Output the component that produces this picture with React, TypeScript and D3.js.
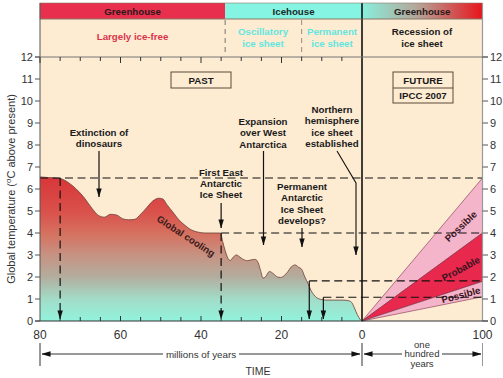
import React from "react";
import * as d3 from "d3";

// ---------- data ----------
const pastAges = [80, 78, 76, 74.5, 73, 71, 69, 67, 65.5, 64, 62.5, 61, 59.5, 58, 56.5, 55, 53.5, 52, 50.5, 49.5, 48.5, 47, 45.5, 44, 42.5, 41, 39, 37, 35.2, 34.6, 34, 33.3, 32.7, 32, 31.2, 30.3, 29.5, 28.5, 27.5, 26.5, 25.8, 25.2, 24.6, 24, 23, 22, 21, 20.2, 19.4, 18.6, 17.6, 16.6, 15.8, 15, 14.2, 13.4, 12.7, 12, 11.2, 10.2, 9, 7, 5, 3.5, 2.6, 1.9, 1.2, 0.5, 0];
const pastTemps = [6.55, 6.52, 6.5, 6.45, 6.3, 6.0, 5.6, 5.1, 4.8, 4.72, 4.85, 4.82, 4.65, 4.6, 4.62, 4.85, 5.15, 5.45, 5.58, 5.55, 5.3, 4.95, 4.6, 4.35, 4.15, 4.05, 4.0, 4.0, 4.0, 3.6, 3.2, 2.85, 2.75, 2.9, 3.0, 2.9, 2.8, 2.74, 2.78, 2.8, 2.65, 2.3, 1.95, 2.0, 2.25, 2.15, 2.0, 1.98, 2.05, 2.2, 2.45, 2.55, 2.45, 2.35, 2.0, 1.7, 1.4, 1.2, 1.05, 0.98, 0.95, 0.95, 0.95, 0.93, 0.85, 0.6, 0.3, 0.08, 0];

const futureLabels = ["Possible", "Probable", "Possible"];
const futureHigh = [6.5, 4.0, 1.8];
const futureLow = [4.0, 1.8, 1.1];

const pastTickLabels = [80, 60, 40, 20, 0];
const futureTickLabels = [0, 100];
const tempTicks = d3.range(0, 13);

const eraNames = ["Greenhouse", "Icehouse", "Greenhouse"];
const eraAges = [80, 34, 0];

// reference levels (temp) with the age at which they start
const levelTemps = [6.5, 4.0, 1.82, 1.08];
const levelAges = [80, 35, 13.1, 9.6];

// ---------- layout ----------
const W = 503, H = 378;
const x = d3.scaleLinear().domain([80, 0]).range([40, 362]);
const xf = d3.scaleLinear().domain([0, 100]).range([362, 482.5]);
const y = d3.scaleLinear().domain([0, 12]).range([321, 57]);

const FONT = "'Liberation Sans', Arial, sans-serif";
const BEIGE = "#fdebd2";
const BF = 9.7; // bold annotation font size

export default function App() {
  const pts = pastAges.map((a, i) => ({ a, t: pastTemps[i] }));
  const area = d3.area<{ a: number; t: number }>()
    .x(d => x(d.a)).y0(y(0)).y1(d => y(d.t)).curve(d3.curveMonotoneX);
  const line = d3.line<{ a: number; t: number }>()
    .x(d => x(d.a)).y(d => y(d.t)).curve(d3.curveMonotoneX);

  const bandColors = ["#f4b5cb", "#e8284c", "#f4b5cb"];

  const ann = (lines: string[], cx: number, y0: number, lh = 11.4) =>
    lines.map((s, i) => (
      <text key={s + i} x={cx} y={y0 + i * lh} textAnchor="middle" fontWeight="bold" fontSize={BF} fill="#1a1a1a">{s}</text>
    ));

  const topTicks = d3.range(80, 0, -5);

  return (
    <svg width={W} height={H} style={{ position: "absolute", left: 0, top: 0, fontFamily: FONT }}>
      <defs>
        <linearGradient id="cool" gradientUnits="userSpaceOnUse" x1={0} x2={0} y1={y(6.5)} y2={y(0)}>
          <stop offset="0" stopColor="#d8373a" />
          <stop offset={String(1.5 / 6.5)} stopColor="#d9504a" />
          <stop offset={String(2.5 / 6.5)} stopColor="#d6705f" />
          <stop offset={String(3.5 / 6.5)} stopColor="#c79282" />
          <stop offset={String(4.5 / 6.5)} stopColor="#b3ad9e" />
          <stop offset={String(5.5 / 6.5)} stopColor="#a2dcc8" />
          <stop offset="1" stopColor="#92f3dc" />
        </linearGradient>
        <linearGradient id="futHead" x1="0" x2="1" y1="0" y2="0">
          <stop offset="0" stopColor="#88efdc" />
          <stop offset="0.45" stopColor="#b3a79a" />
          <stop offset="1" stopColor="#e8141c" />
        </linearGradient>
        <marker id="ah" viewBox="0 0 10 10" refX="9.5" refY="5" markerWidth="9" markerHeight="9" orient="auto-start-reverse" markerUnits="userSpaceOnUse">
          <path d="M0,2 L10,5 L0,8 z" fill="#111" />
        </marker>
      </defs>

      {/* background */}
      <rect x={40} y={3} width={442.5} height={318} fill={BEIGE} />

      {/* era bands */}
      <rect x={x(eraAges[0])} y={3} width={x(eraAges[1]) - x(eraAges[0])} height={16} fill="#e8304e" />
      <rect x={x(eraAges[1])} y={3} width={x(eraAges[2]) - x(eraAges[1])} height={16} fill="#86f4e2" />
      <rect x={xf(0)} y={3} width={xf(100) - xf(0)} height={16} fill="url(#futHead)" />
      <text x={(x(80) + x(34)) / 2} y={14.5} textAnchor="middle" fontWeight="bold" fontSize={BF} fill="#2a1a1a">{eraNames[0]}</text>
      <text x={(x(34) + x(0)) / 2} y={14.5} textAnchor="middle" fontWeight="bold" fontSize={BF} fill="#1a2a2a">{eraNames[1]}</text>
      <text x={(xf(0) + xf(100)) / 2} y={14.5} textAnchor="middle" fontWeight="bold" fontSize={BF} fill="#2a1a1a">{eraNames[2]}</text>
      <line x1={40} x2={482.5} y1={19} y2={19} stroke="#8a7a6a" strokeWidth={0.6} />

      {/* header sub text */}
      <text x={(x(80) + x(34)) / 2} y={39.5} textAnchor="middle" fontWeight="bold" fontSize={BF} fill="#d8344c">Largely ice-free</text>
      <text x={263} y={34.5} textAnchor="middle" fontWeight="bold" fontSize={BF} fill="#62e6e0">Oscillatory</text>
      <text x={263} y={46.5} textAnchor="middle" fontWeight="bold" fontSize={BF} fill="#62e6e0">ice sheet</text>
      <text x={332} y={34.5} textAnchor="middle" fontWeight="bold" fontSize={BF} fill="#62e6e0">Permanent</text>
      <text x={332} y={46.5} textAnchor="middle" fontWeight="bold" fontSize={BF} fill="#62e6e0">ice sheet</text>
      <text x={422} y={34.5} textAnchor="middle" fontWeight="bold" fontSize={BF} fill="#1a1a1a">Recession of</text>
      <text x={422} y={46.5} textAnchor="middle" fontWeight="bold" fontSize={BF} fill="#1a1a1a">ice sheet</text>
      <line x1={x(34)} x2={x(34)} y1={20} y2={55} stroke="#555" strokeWidth={0.8} strokeDasharray="5,4" />
      <line x1={x(15)} x2={x(15)} y1={20} y2={57} stroke="#777" strokeWidth={0.8} strokeDasharray="5,4" />

      {/* past curve */}
      <path d={area(pts) || ""} fill="url(#cool)" />
      <path d={line(pts) || ""} fill="none" stroke="#6a4038" strokeWidth={0.8} />

      {/* future bands */}
      {futureLabels.map((lab, i) => {
        const poly = [[xf(0), y(0)], [xf(100), y(futureHigh[i])], [xf(100), y(futureLow[i])]];
        return <path key={i} d={"M" + poly.map(p => p.join(",")).join("L") + "Z"} fill={bandColors[i]} stroke="#7a3048" strokeWidth={0.6} />;
      })}
      {futureLabels.map((lab, i) => {
        const tm = (futureHigh[i] + futureLow[i]) / 2;
        const ax = 82;
        const px = xf(ax), py = y(tm * ax / 100);
        const ang = -Math.atan2(y(0) - y(tm), xf(100) - xf(0)) * 180 / Math.PI;
        return (
          <text key={"l" + i} x={px} y={py} transform={`rotate(${ang},${px},${py})`} textAnchor="middle" dominantBaseline="central"
            fontWeight="bold" fontSize={BF} fill="#3a1420">{lab}</text>
        );
      })}

      {/* reference dashed levels */}
      {levelTemps.map((t, i) => (
        <line key={"lv" + i} x1={x(levelAges[i])} x2={482.5} y1={y(t)} y2={y(t)} stroke="#111" strokeWidth={1.2} strokeDasharray="8,4.5" />
      ))}
      {/* vertical drops */}
      <line x1={x(75)} x2={x(75)} y1={y(6.5)} y2={y(0) - 2} stroke="#111" strokeWidth={1.2} strokeDasharray="8,4.5" markerEnd="url(#ah)" />
      <line x1={x(35)} x2={x(35)} y1={y(4.0)} y2={y(0) - 2} stroke="#111" strokeWidth={1.2} strokeDasharray="8,4.5" markerEnd="url(#ah)" />
      <line x1={x(13.1)} x2={x(13.1)} y1={y(1.82)} y2={y(0) - 2} stroke="#111" strokeWidth={1.2} markerEnd="url(#ah)" />
      <line x1={x(9.6)} x2={x(9.6)} y1={y(1.08)} y2={y(0) - 2} stroke="#111" strokeWidth={1.2} markerEnd="url(#ah)" />

      {/* present line */}
      <line x1={362} x2={362} y1={3} y2={321} stroke="#111" strokeWidth={1.6} />

      {/* frame / axes */}
      <rect x={40} y={3} width={442.5} height={16} fill="none" stroke="#8a7a6a" strokeWidth={0.6} />
      <line x1={40} x2={40} y1={3} y2={321} stroke="#555" strokeWidth={1} />
      <line x1={482.5} x2={482.5} y1={3} y2={321} stroke="#999" strokeWidth={1.2} />
      <line x1={35} x2={488} y1={y(12)} y2={y(12)} stroke="#777" strokeWidth={1} />
      <line x1={35} x2={488} y1={y(0)} y2={y(0)} stroke="#333" strokeWidth={1} />
      {tempTicks.map(t => (
        <g key={"yt" + t}>
          <line x1={35} x2={40} y1={y(t)} y2={y(t)} stroke="#555" />
          <text x={33} y={y(t) + 4} textAnchor="end" fontSize={11} fill="#333">{t}</text>
          <line x1={482.5} x2={488} y1={y(t)} y2={y(t)} stroke="#555" />
          <text x={490} y={y(t) + 4} textAnchor="start" fontSize={11} fill="#333">{t}</text>
        </g>
      ))}
      {topTicks.map(a => {
        const big = a % 20 === 0;
        return (
          <g key={"tt" + a}>
            <line x1={x(a)} x2={x(a)} y1={y(12)} y2={y(12) + (big ? 6 : 4)} stroke="#333" />
            {a !== 80 && <line x1={x(a)} x2={x(a)} y1={y(0)} y2={y(0) - (big ? 5 : 4)} stroke="#333" />}
          </g>
        );
      })}
      {pastTickLabels.map(a => (
        <text key={"xl" + a} x={x(a)} y={339} textAnchor="middle" fontSize={12} fill="#333">{a}</text>
      ))}
      {futureTickLabels.filter(v => v !== 0).map(v => (
        <text key={"fl" + v} x={xf(v)} y={339} textAnchor="middle" fontSize={12} fill="#333">{v}</text>
      ))}

      {/* y title */}
      <text transform={`translate(15,${(y(0) + y(12)) / 2}) rotate(-90)`} textAnchor="middle" fontSize={11} fill="#333">
        Global temperature (<tspan dy={-4} fontSize={8}>o</tspan><tspan dy={4}>C above present)</tspan>
      </text>

      {/* time span arrows */}
      <line x1={40} x2={40} y1={343} y2={366} stroke="#333" />
      <line x1={362} x2={362} y1={343} y2={366} stroke="#333" />
      <line x1={482.5} x2={482.5} y1={343} y2={366} stroke="#999" />
      <line x1={163} x2={42} y1={354} y2={354} stroke="#333" markerEnd="url(#ah)" />
      <line x1={239} x2={360} y1={354} y2={354} stroke="#333" markerEnd="url(#ah)" />
      <text x={201} y={357.5} textAnchor="middle" fontSize={9.8} fill="#333">millions of years</text>
      <line x1={402} x2={364} y1={354} y2={354} stroke="#333" markerEnd="url(#ah)" />
      <line x1={442} x2={481} y1={354} y2={354} stroke="#333" markerEnd="url(#ah)" />
      <text x={422} y={347.5} textAnchor="middle" fontSize={9.5} fill="#333">one</text>
      <text x={422} y={357} textAnchor="middle" fontSize={9.5} fill="#333">hundred</text>
      <text x={422} y={366.5} textAnchor="middle" fontSize={9.5} fill="#333">years</text>
      <text x={258} y={375} textAnchor="middle" fontSize={10.5} fill="#333">TIME</text>

      {/* boxes */}
      <rect x={171} y={72} width={60} height={16} fill="none" stroke="#5a4a3a" strokeWidth={1} />
      <text x={201} y={83.5} textAnchor="middle" fontWeight="bold" fontSize={BF} fill="#1a1a1a">PAST</text>
      <rect x={393} y={72} width={60} height={31} fill="none" stroke="#5a4a3a" strokeWidth={1} />
      <line x1={393} x2={453} y1={88} y2={88} stroke="#5a4a3a" />
      <text x={423} y={83.5} textAnchor="middle" fontWeight="bold" fontSize={BF} fill="#1a1a1a">FUTURE</text>
      <text x={423} y={99} textAnchor="middle" fontWeight="bold" fontSize={BF} fill="#1a1a1a">IPCC 2007</text>

      {/* annotations */}
      {ann(["Extinction of", "dinosaurs"], 99, 135.5)}
      <line x1={99} x2={99} y1={151} y2={197} stroke="#111" strokeWidth={1.2} markerEnd="url(#ah)" />
      {ann(["First East", "Antarctic", "Ice Sheet"], 221, 175.5)}
      <line x1={x(35)} x2={x(35)} y1={203} y2={228} stroke="#111" strokeWidth={1.2} markerEnd="url(#ah)" />
      {ann(["Expansion", "over West", "Antarctica"], 263, 125)}
      <line x1={263.5} x2={263.5} y1={151} y2={245} stroke="#111" strokeWidth={1.2} markerEnd="url(#ah)" />
      {ann(["Northern", "hemisphere", "ice sheet", "established"], 332, 113)}
      <path d="M337,151 L356,183 L356,255" fill="none" stroke="#111" strokeWidth={1.1} markerEnd="url(#ah)" />
      {ann(["Permanent", "Antarctic", "Ice Sheet", "develops?"], 302, 190)}
      <line x1={302} x2={302} y1={228} y2={247} stroke="#111" strokeWidth={1.2} markerEnd="url(#ah)" />
      <text x={186} y={236} transform="rotate(33,186,236)" textAnchor="middle" dominantBaseline="central" fontWeight="bold" fontSize={BF} fill="#3a1a1a">Global cooling</text>
    </svg>
  );
}
